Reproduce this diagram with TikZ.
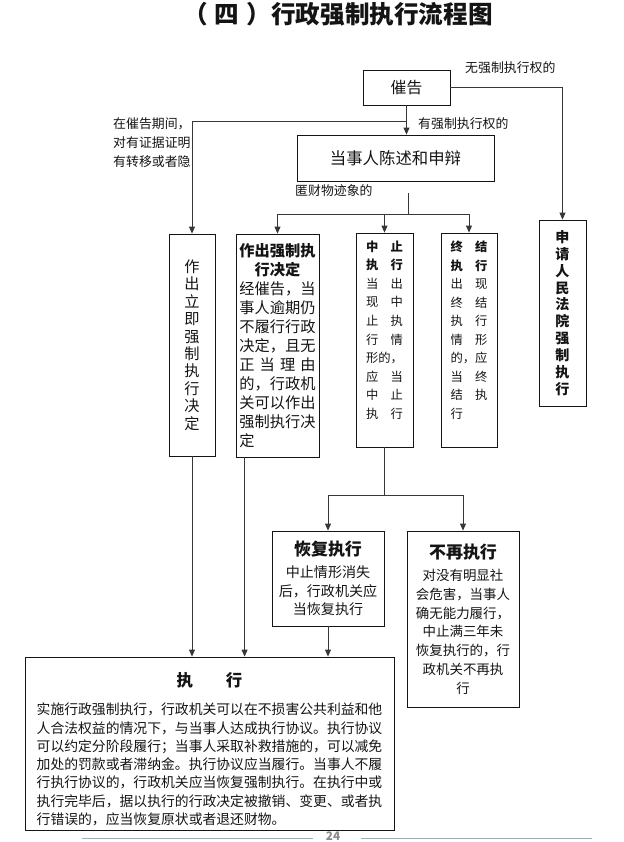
\documentclass[tikz,border=0pt]{standalone}
\usepackage{fontspec}
\setmainfont{Noto Sans CJK SC}
\usetikzlibrary{arrows.meta,calc}
\definecolor{ink}{RGB}{20,20,20}
\definecolor{wirec}{RGB}{55,55,55}
\definecolor{soft}{RGB}{160,172,182}
\newcommand{\fs}[2]{\fontsize{#1}{#2}\selectfont}
\newcommand{\duo}[2]{\makebox[3em][s]{#1\hfill#2}}
\begin{document}
\begin{tikzpicture}[x=0.3mm,y=-0.3mm,
    box/.style={draw=ink,line width=0.7pt,inner sep=1pt,align=center,text=ink},
    link/.style={wirec,line width=0.7pt},
    arr/.style={link,-{Triangle[length=2.1mm,width=1.8mm]}},
    lbl/.style={font=\fs{11pt}{13pt},anchor=west,inner sep=0pt,text=ink}]
  \useasboundingbox (0,0) rectangle (624,842);
  \node[font=\bfseries\fs{21pt}{24pt},text=ink] (title) at (338,14) {（\hspace{6pt}四\hspace{6pt}）行政强制执行流程图};
  % boxes
  \node[box,minimum width=26.1mm,minimum height=10.5mm,font=\fs{13.5pt}{15pt}] (cuigao) at (406.5,87.5) {催告};
  \node[box,minimum width=59.1mm,minimum height=13.8mm,font=\fs{14pt}{16pt}] (chenshu) at (395.5,158) {当事人陈述和申辩};
  \node[box,minimum width=13.8mm,minimum height=66.6mm,font=\fs{13pt}{14.9pt}] (liji) at (192,345)
    {作\\出\\立\\即\\强\\制\\执\\行\\决\\定};
  \node[box,minimum width=24.9mm,minimum height=66.9mm,font=\fs{13pt}{16.2pt},align=left] (zuochu) at (277.5,345.5)
    {\textbf{作出强制执}\\\makebox[5em]{\textbf{行决定}}\\经催告，当\\事人逾期仍\\不履行行政\\决定，且无\\\makebox[5em][s]{正\hfill 当\hfill 理\hfill 由}\\的，行政机\\关可以作出\\强制执行决\\定};
  \node[box,minimum width=17.1mm,minimum height=64.2mm] (zhongzhi) at (384.5,340) {};
  \node[font=\fs{10.5pt}{15.8pt},align=left,text=ink] (zhongzhitxt) at (384.5,330)
    {\textbf{\duo{中}{止}}\\\textbf{\duo{执}{行}}\\\duo{当}{出}\\\duo{现}{中}\\\duo{止}{执}\\\duo{行}{情}\\\duo{形}{的，}\\\duo{应}{当}\\\duo{中}{止}\\\duo{执}{行}};
  \node[box,minimum width=16.8mm,minimum height=64.2mm] (zhongjie) at (469,340) {};
  \node[font=\fs{10.5pt}{15.8pt},align=left,text=ink] (zhongjietxt) at (469,330)
    {\textbf{\duo{终}{结}}\\\textbf{\duo{执}{行}}\\\duo{出}{现}\\\duo{终}{结}\\\duo{执}{行}\\\duo{情}{形}\\\duo{的，}{应}\\\duo{当}{终}\\\duo{结}{执}\\\makebox[3em][l]{行}};
  \node[box,minimum width=14.1mm,minimum height=55.8mm,font=\bfseries\fs{12pt}{14.4pt}] (shenqing) at (562.5,313)
    {申\\请\\人\\民\\法\\院\\强\\制\\执\\行};
  \node[box,minimum width=33.6mm,minimum height=28.5mm,font=\fs{12pt}{15.8pt}] (huifu) at (328,578.5)
    {{\bfseries\fs{14.5pt}{16pt}恢复执行}\\[3pt]中止情形消失\\后，行政机关应\\当恢复执行};
  \node[box,minimum width=33.6mm,minimum height=52.8mm,font=\fs{11.5pt}{16pt}] (buzai) at (463,619)
    {{\bfseries\fs{14.5pt}{16pt}不再执行}\\[3pt]对没有明显社\\会危害，当事人\\确无能力履行，\\中止满三年未\\恢复执行的，行\\政机关不再执\\行};
  \node[box,minimum width=110.7mm,minimum height=51.9mm] (zhixing) at (209.5,743.5) {};
  \node[font=\fs{11.8pt}{15.6pt},align=center,text=ink] (zhixingtxt) at (209.5,749)
    {{\bfseries\fs{14pt}{16pt}执\quad\quad 行}\\[9pt]
     实施行政强制执行，行政机关可以在不损害公共利益和他\\
     人合法权益的情况下，与当事人达成执行协议。执行协议\\
     可以约定分阶段履行；当事人采取补救措施的，可以减免\\
     加处的罚款或者滞纳金。执行协议应当履行。当事人不履\\
     行执行协议的，行政机关应当恢复强制执行。在执行中或\\
     执行完毕后，据以执行的行政决定被撤销、变更、或者执\\
     \makebox[25em][l]{行错误的，应当恢复原状或者退还财物。}};
  % labels
  \node[lbl] (nopower) at (465,68) {无强制执行权的};
  \node[lbl] (power) at (418,124) {有强制执行权的};
  \node[lbl] (hold1) at (113,124) {在催告期间，};
  \node[lbl] (hold2) at (113,143) {对有证据证明};
  \node[lbl] (hold3) at (113,162) {有转移或者隐};
  \node[lbl] (hold4) at (295,191) {匿财物迹象的};
  % connectors
  \coordinate (split) at ($(cuigao.south)+(0,16)$);
  \coordinate (stem) at ($(chenshu.south)+(12.5,12)$);
  \coordinate (fork) at ($(chenshu.south)+(12.5,33)$);
  \coordinate (branch) at ($(zhongzhi.south)+(0,48)$);
  \coordinate (zcfoot) at ($(zuochu.south west)+(9,0)$);
  \draw[arr] (cuigao.south) -- (cuigao.south |- chenshu.north);
  \draw[arr] (split) -| (liji.north);
  \draw[arr] (cuigao.east) -| (shenqing.north);
  \draw[link] (stem) -- (fork);
  \draw[arr] (fork) -| (zuochu.north);
  \draw[arr] (fork) -| (zhongzhi.north);
  \draw[arr] (fork) -| (zhongjie.north);
  \draw[link] (zhongzhi.south) -- (branch);
  \draw[arr] (branch) -| (huifu.north);
  \draw[arr] (branch) -| (buzai.north);
  \draw[arr] (liji.south) -- (liji.south |- zhixing.north);
  \draw[arr] (zcfoot) -- (zcfoot |- zhixing.north);
  \draw[arr] (huifu.south) -- (huifu.south |- zhixing.north);
  % footer
  \draw[soft,line width=0.6pt] (82,838) -- (313,838);
  \draw[soft,line width=0.6pt] (361,838) -- (592,838);
  \node[font=\bfseries\fs{10pt}{12pt},text=black!45] (pageno) at (333,836) {24};
\end{tikzpicture}
\end{document}
